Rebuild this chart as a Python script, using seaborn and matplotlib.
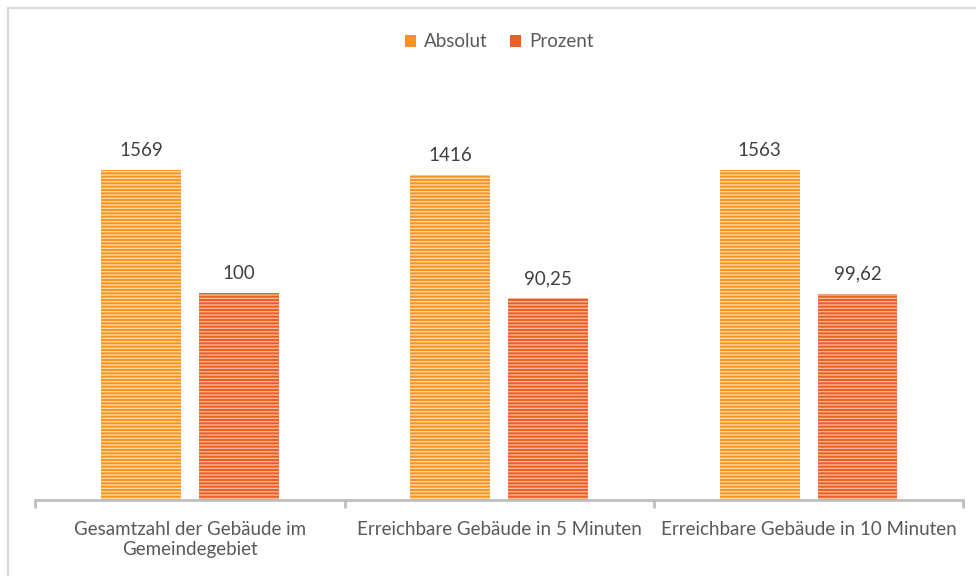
import pandas as pd
import seaborn as sns
import matplotlib.pyplot as plt
from matplotlib.patches import Rectangle

categories = ["Gesamtzahl der Gebäude im\nGemeindegebiet",
              "Erreichbare Gebäude in 5 Minuten",
              "Erreichbare Gebäude in 10 Minuten"]
absolut = [1569, 1416, 1563]
prozent = [100, 90.25, 99.62]
series = ["Absolut", "Prozent"]
colors = ["#F7941D", "#EA5E24"]
stripe_colors = ["#FDD9A6", "#F8B595"]


def fmt(v):
    return "{:g}".format(v).replace(".", ",")


def main():
    df = pd.DataFrame({
        "Kategorie": categories * 2,
        "Wert": absolut + prozent,
        "Reihe": [series[0]] * 3 + [series[1]] * 3,
    })

    sns.set_theme(style="white")
    plt.rcParams["font.family"] = ["Lato", "DejaVu Sans"]
    plt.rcParams["hatch.linewidth"] = 1.0

    fig = plt.figure(figsize=(9.76, 5.76), dpi=100)
    ax = fig.add_axes([0.036, 0.132, 0.951, 0.717])

    sns.barplot(data=df, x="Kategorie", y="Wert", hue="Reihe",
                palette=colors, width=0.632, gap=0.183, ax=ax,
                saturation=1, legend=True)
    # log axis, the bars start at 1
    ax.set_yscale("log")
    ax.set_ylim(1, 10000)

    for container, sc in zip(ax.containers, stripe_colors):
        for bar in container:
            bar.set_hatch("-----")
            bar.set_edgecolor(sc)
            bar.set_linewidth(0)
        ax.bar_label(container, labels=[fmt(b.get_height()) for b in container],
                     padding=8, fontsize=13.5, color="#404040")

    ax.set_xlim(-0.5, 2.5)
    ax.set_xlabel("")
    ax.set_ylabel("")
    ax.set_yticks([])
    ax.set_yticks([], minor=True)
    for s in ["top", "right", "left"]:
        ax.spines[s].set_visible(False)
    ax.spines["bottom"].set_color("#BFBFBF")
    ax.spines["bottom"].set_linewidth(2)

    ax.set_xticks([-0.5, 0.5, 1.5, 2.5], minor=True)
    ax.tick_params(axis="x", which="major", bottom=False, pad=9,
                   labelsize=13.5, labelcolor="#595959")
    ax.tick_params(axis="x", which="minor", bottom=True, length=6, width=2,
                   color="#BFBFBF", direction="out")

    handles, labels = ax.get_legend_handles_labels()
    ax.legend(handles, labels, loc="center", bbox_to_anchor=(0.5, 1.109),
              ncol=2, frameon=False, fontsize=13.5, labelcolor="#595959",
              handlelength=0.6, handleheight=0.6, handletextpad=0.4,
              columnspacing=1.2)
    for h in ax.get_legend().legend_handles:
        h.set_hatch("")
        h.set_linewidth(0)

    fig.patches.append(Rectangle((8 / 976, -0.1), 1.0, 1.1 - 8 / 576,
                                 transform=fig.transFigure, fill=False,
                                 edgecolor="#D9D9D9", linewidth=1.5))

    plt.savefig("out.png", dpi=100)


if __name__ == "__main__":
    main()
